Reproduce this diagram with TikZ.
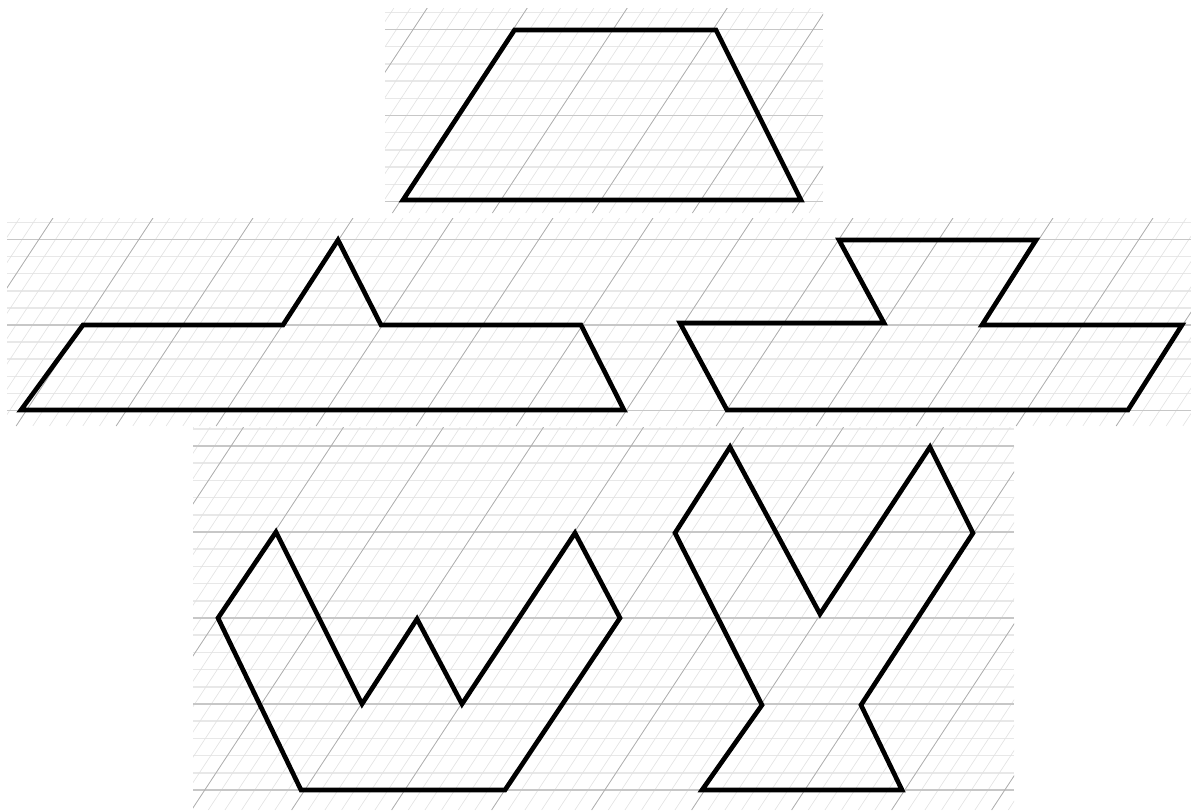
\documentclass[tikz,border=0pt]{standalone}
\begin{document}
\begin{tikzpicture}[x=0.75pt,y=-0.75pt,
  hlight/.style={draw=black!9,line width=1.1pt},
  hdark/.style={draw=black!22,line width=1.1pt},
  slight/.style={draw=black!11,line width=0.5pt},
  sdark/.style={draw=black!32,line width=0.55pt},
  figure/.style={draw=black,line width=3.5pt,line join=miter}]
\useasboundingbox (0,0) rectangle (1191,810);
% #1 x1, #2 y1, #3 x2, #4 y2, #5 slant offset, #6 first horizontal y, #7 last index, #8 spacing
\newcommand\gridpanel[8]{%
  \begin{scope}
    \clip (#1,#2) rectangle (#3,#4);
    \foreach \k in {0,...,#7}{%
      \pgfmathsetmacro\yy{#6+#8*\k}
      \draw[hlight] (#1,\yy) -- (#3,\yy);}
    \foreach \i in {0,...,96}{%
      \pgfmathsetmacro\xa{#5+16.6667*\i-#2/1.52}
      \pgfmathsetmacro\xb{#5+16.6667*\i-#4/1.52}
      \draw[slight] (\xa,#2) -- (\xb,#4);}
    \foreach \k in {1,6,...,#7}{%
      \pgfmathsetmacro\yy{#6+#8*\k}
      \draw[hdark] (#1,\yy) -- (#3,\yy);}
    \foreach \j in {0,...,16}{%
      \pgfmathsetmacro\xa{#5+100*\j-#2/1.52}
      \pgfmathsetmacro\xb{#5+100*\j-#4/1.52}
      \draw[sdark] (\xa,#2) -- (\xb,#4);}
  \end{scope}}
\gridpanel{385}{8}{823}{213}{32.5}{12.3}{11}{17.2}
\gridpanel{7}{218}{1191}{426}{96.4}{222.4}{11}{17.1}
\gridpanel{193}{427}{1014}{810}{24.5}{428.8}{21}{17.2}
% figures
\draw[figure] (403,200) -- (514.5,30) -- (716,30) -- (801,200) -- cycle;
\draw[figure] (21,410) -- (83,325) -- (283,325) -- (338,240) -- (381,325) -- (581,325) -- (624,410) -- cycle;
\draw[figure] (680,323) -- (884,323) -- (839,240) -- (1036,240) -- (982,325) -- (1182,325) -- (1128,410) -- (727,410) -- cycle;
\draw[figure] (218,618) -- (276,532) -- (362,704) -- (417,619) -- (462,704) -- (575,533) -- (620,618) -- (505,790) -- (301,790) -- cycle;
\draw[figure] (675,533) -- (730,447) -- (820,614) -- (930,447) -- (973,533) -- (861,705) -- (902,790) -- (702,790) -- (762,705) -- cycle;
\end{tikzpicture}
\end{document}
